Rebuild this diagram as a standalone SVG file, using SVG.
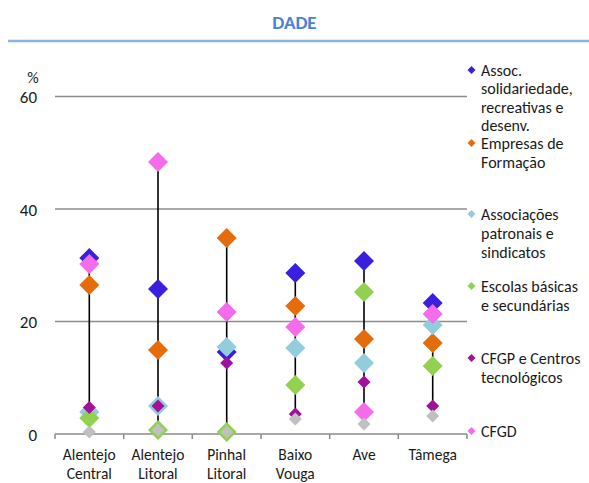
<svg xmlns="http://www.w3.org/2000/svg" xmlns:xlink="http://www.w3.org/1999/xlink" width="589" height="483" viewBox="0 0 589 483">
  <style>
    text { font-family: Carlito, Lato, "Liberation Sans", sans-serif; fill: #1a1a1a; }
    .title { font-size: 19px; font-weight: bold; fill: #4A82D6; }
    .axnum { font-size: 17px; text-anchor: end; }
    .cat { font-size: 15.5px; text-anchor: middle; }
    .leg { font-size: 16px; }
    .grid { stroke: #8C8C8C; stroke-width: 1.5; fill: none; }
    .hl { stroke: #000; stroke-width: 1.6; }
    .blue { fill: #3A20DE; }
    .orange { fill: #E46C0A; }
    .lblue { fill: #93CDDD; }
    .green { fill: #92D050; }
    .purple { fill: #A0129A; }
    .pink { fill: #F46CEA; }
    .gray { fill: #C0C0C0; }
  </style>
  <defs>
    <path id="dL" d="M0,-10 L10,0 L0,10 L-10,0Z"/>
    <path id="dS" d="M0,-6.5 L6.5,0 L0,6.5 L-6.5,0Z"/>
    <path id="dK" d="M0,-4 L4,0 L0,4 L-4,0Z"/>
  </defs>
  <rect width="589" height="483" fill="#fff"/>

  <g id="title">
    <text class="title" x="294.5" y="29" text-anchor="middle">DADE</text>
    <line x1="8" y1="41" x2="589" y2="41" stroke="#8DB3E2" stroke-width="2.5"/>
  </g>

  <g id="axes">
    <line class="grid" x1="55" y1="96.5" x2="467" y2="96.5"/>
    <line class="grid" x1="55" y1="209" x2="467" y2="209"/>
    <line class="grid" x1="55" y1="321.5" x2="467" y2="321.5"/>
    <line class="grid" x1="55" y1="434" x2="467" y2="434"/>
    <path class="grid" d="M55,434V439M123.7,434V439M192.3,434V439M261,434V439M329.7,434V439M398.3,434V439M467,434V439"/>
    <text x="33" y="83" style="font-size:16px" text-anchor="middle">%</text>
    <text class="axnum" x="37" y="103">60</text>
    <text class="axnum" x="37" y="215.5">40</text>
    <text class="axnum" x="37" y="328">20</text>
    <text class="axnum" x="37" y="440.5">0</text>
    <text class="cat" x="89.3" y="460">Alentejo</text>
    <text class="cat" x="89.3" y="478.5">Central</text>
    <text class="cat" x="158" y="460">Alentejo</text>
    <text class="cat" x="158" y="478.5">Litoral</text>
    <text class="cat" x="226.7" y="460">Pinhal</text>
    <text class="cat" x="226.7" y="478.5">Litoral</text>
    <text class="cat" x="295.3" y="460">Baixo</text>
    <text class="cat" x="295.3" y="478.5">Vouga</text>
    <text class="cat" x="364" y="460">Ave</text>
    <text class="cat" x="432.7" y="460">Tâmega</text>
  </g>

  <g id="connectors">
    <line class="hl" x1="89.3" y1="258" x2="89.3" y2="432"/>
    <line class="hl" x1="158" y1="162" x2="158" y2="430"/>
    <line class="hl" x1="226.7" y1="238" x2="226.7" y2="432"/>
    <line class="hl" x1="295.3" y1="273" x2="295.3" y2="419"/>
    <line class="hl" x1="364" y1="261" x2="364" y2="424"/>
    <line class="hl" x1="432.7" y1="303" x2="432.7" y2="416"/>
  </g>

  <g id="series-assoc" class="blue">
    <use xlink:href="#dL" x="89.3" y="258"/>
    <use xlink:href="#dL" x="158" y="289"/>
    <use xlink:href="#dL" x="226.7" y="352"/>
    <use xlink:href="#dL" x="295.3" y="273"/>
    <use xlink:href="#dL" x="364" y="261"/>
    <use xlink:href="#dL" x="432.7" y="303"/>
  </g>
  <g id="series-empresas" class="orange">
    <use xlink:href="#dL" x="89.3" y="285"/>
    <use xlink:href="#dL" x="158" y="350"/>
    <use xlink:href="#dL" x="226.7" y="238"/>
    <use xlink:href="#dL" x="295.3" y="306"/>
    <use xlink:href="#dL" x="364" y="339"/>
    <use xlink:href="#dL" x="432.7" y="343"/>
  </g>
  <g id="series-associacoes" class="lblue">
    <use xlink:href="#dL" x="89.3" y="412"/>
    <use xlink:href="#dL" x="158" y="406"/>
    <use xlink:href="#dL" x="226.7" y="347"/>
    <use xlink:href="#dL" x="295.3" y="348"/>
    <use xlink:href="#dL" x="364" y="363"/>
    <use xlink:href="#dL" x="432.7" y="325"/>
  </g>
  <g id="series-escolas" class="green">
    <use xlink:href="#dL" x="89.3" y="418"/>
    <use xlink:href="#dL" x="158" y="430"/>
    <use xlink:href="#dL" x="226.7" y="432"/>
    <use xlink:href="#dL" x="295.3" y="385"/>
    <use xlink:href="#dL" x="364" y="292"/>
    <use xlink:href="#dL" x="432.7" y="366"/>
  </g>
  <g id="series-cfgp" class="purple">
    <use xlink:href="#dS" x="89.3" y="407.5"/>
    <use xlink:href="#dS" x="158" y="406"/>
    <use xlink:href="#dS" x="226.7" y="363"/>
    <use xlink:href="#dS" x="295.3" y="414"/>
    <use xlink:href="#dS" x="364" y="382"/>
    <use xlink:href="#dS" x="432.7" y="406"/>
  </g>
  <g id="series-cfgd" class="pink">
    <use xlink:href="#dL" x="89.3" y="264"/>
    <use xlink:href="#dL" x="158" y="162"/>
    <use xlink:href="#dL" x="226.7" y="312"/>
    <use xlink:href="#dL" x="295.3" y="327"/>
    <use xlink:href="#dL" x="364" y="412"/>
    <use xlink:href="#dL" x="432.7" y="314"/>
  </g>
  <g id="series-other" class="gray">
    <use xlink:href="#dS" x="89.3" y="432"/>
    <use xlink:href="#dS" x="158" y="430"/>
    <use xlink:href="#dS" x="226.7" y="432"/>
    <use xlink:href="#dS" x="295.3" y="419"/>
    <use xlink:href="#dS" x="364" y="424"/>
    <use xlink:href="#dS" x="432.7" y="416"/>
  </g>

  <g id="legend-assoc">
    <use xlink:href="#dK" x="471.5" y="70" class="blue"/>
    <text class="leg" x="481" y="75.5">Assoc.</text>
    <text class="leg" x="481" y="94">solidariedade,</text>
    <text class="leg" x="481" y="112.5">recreativas e</text>
    <text class="leg" x="481" y="131">desenv.</text>
  </g>
  <g id="legend-empresas">
    <use xlink:href="#dK" x="471.5" y="143" class="orange"/>
    <text class="leg" x="481" y="148.5">Empresas de</text>
    <text class="leg" x="481" y="167.5">Formação</text>
  </g>
  <g id="legend-associacoes">
    <use xlink:href="#dK" x="471.5" y="214" class="lblue"/>
    <text class="leg" x="481" y="219.5">Associações</text>
    <text class="leg" x="481" y="238.5">patronais e</text>
    <text class="leg" x="481" y="257.5">sindicatos</text>
  </g>
  <g id="legend-escolas">
    <use xlink:href="#dK" x="471.5" y="286" class="green"/>
    <text class="leg" x="481" y="291.5">Escolas básicas</text>
    <text class="leg" x="481" y="310.5">e secundárias</text>
  </g>
  <g id="legend-cfgp">
    <use xlink:href="#dK" x="471.5" y="358" class="purple"/>
    <text class="leg" x="481" y="363.5">CFGP e Centros</text>
    <text class="leg" x="481" y="382.5">tecnológicos</text>
  </g>
  <g id="legend-cfgd">
    <use xlink:href="#dK" x="471.5" y="431" class="pink"/>
    <text class="leg" x="481" y="436.5">CFGD</text>
  </g>
</svg>
